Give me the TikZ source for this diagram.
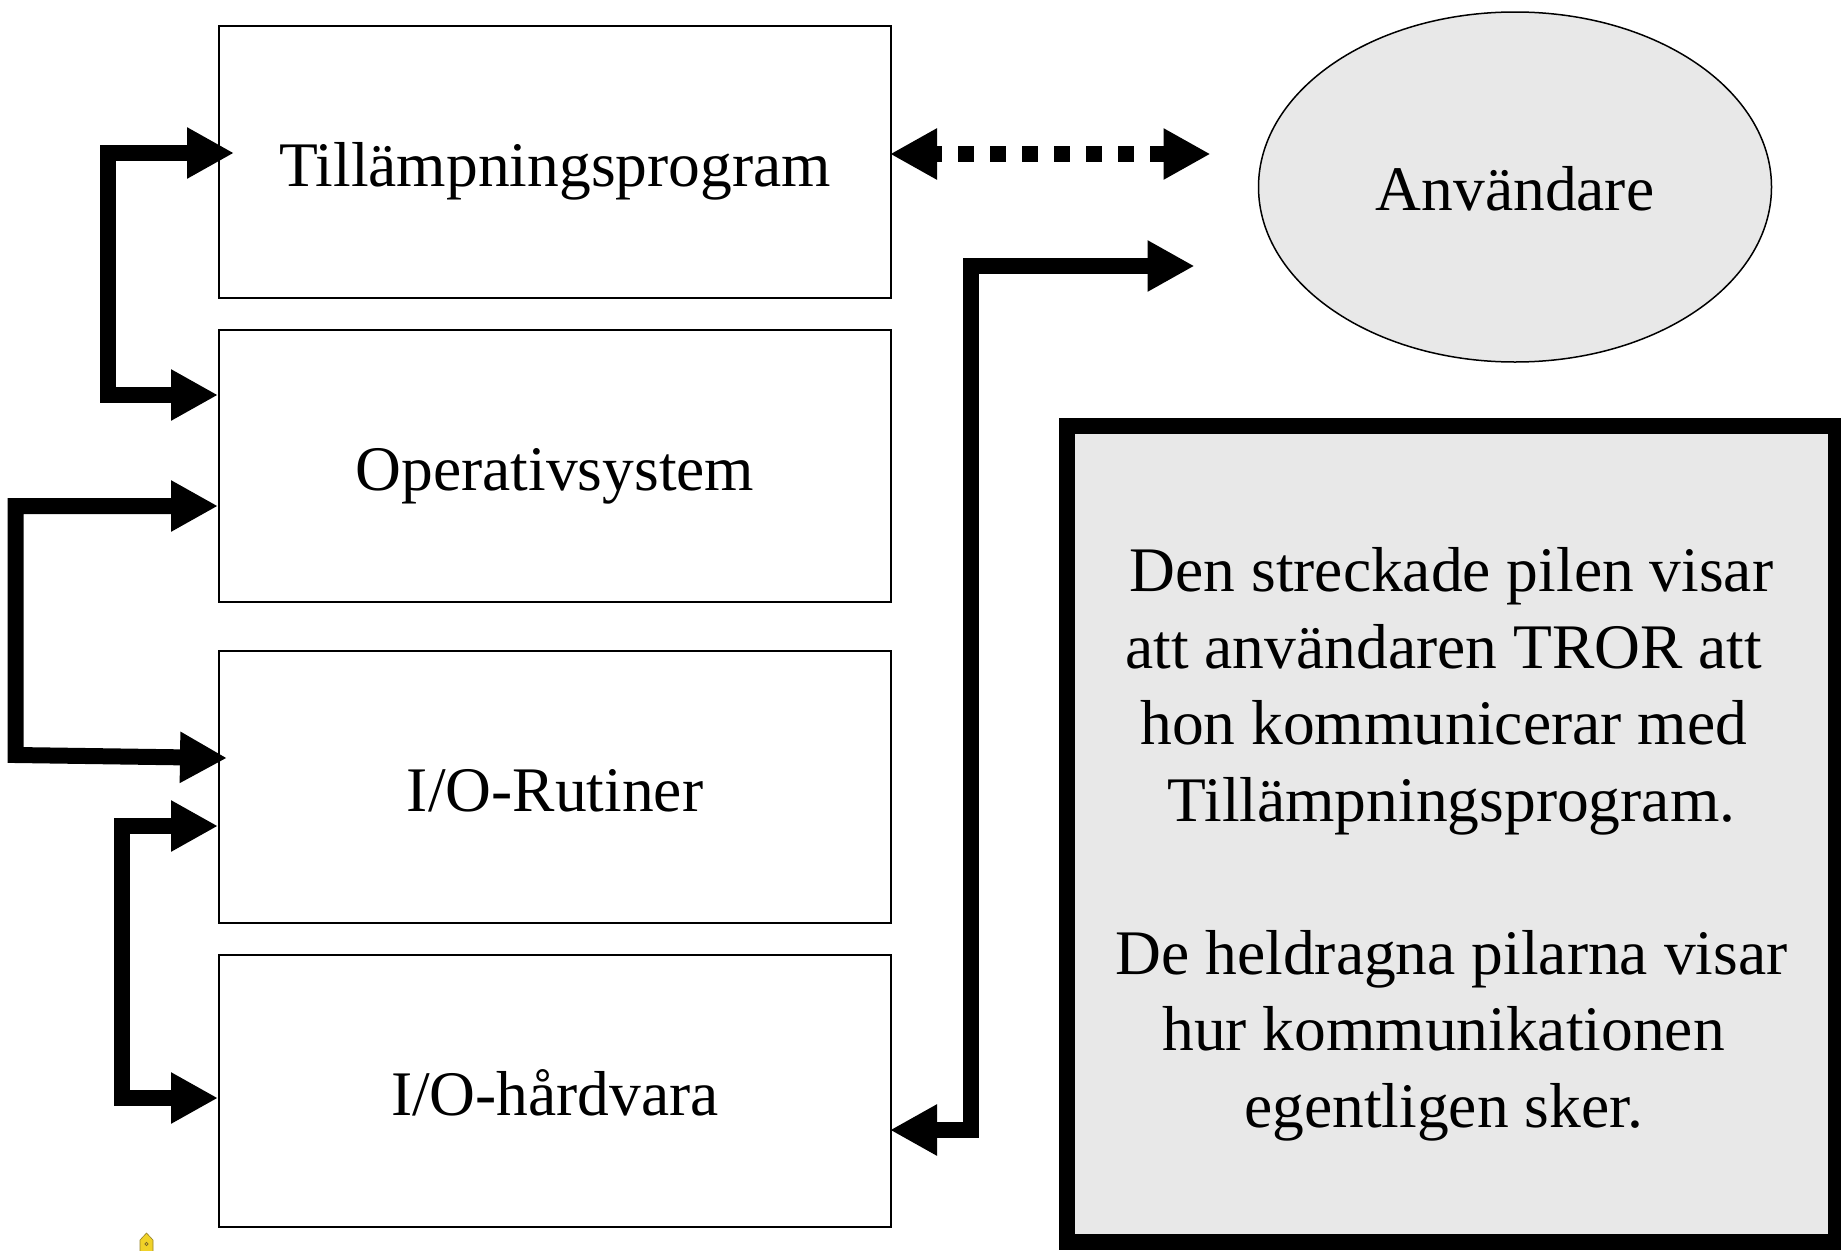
\documentclass[tikz,border=0pt]{standalone}
\usepackage{fontspec}
\setmainfont{Liberation Serif}
\usetikzlibrary{arrows.meta,shapes.geometric}
\newcommand\labelfont{\fontsize{63.5pt}{76.5pt}\selectfont}
\newcommand\trail{\rule{0.25em}{0pt}}
\definecolor{panelgray}{RGB}{232,232,232}
\definecolor{nibfill}{RGB}{240,210,40}
\definecolor{nibline}{RGB}{150,130,40}
\definecolor{nibdot}{RGB}{120,100,40}

\begin{document}
\begin{tikzpicture}[x=1pt,y=-1pt,
  layer/.style={draw, line width=1.5pt, minimum width=672pt, minimum height=272pt,
    inner sep=0pt, outer sep=0pt, font=\labelfont, text height=48.3pt, text depth=0pt},
  bigtip/.tip={Triangle[length=47pt,width=48pt]},
  flow/.style={line width=16pt, line join=miter, arrows={bigtip-bigtip}},
  dotflow/.style={line width=16pt, dash pattern=on 16pt off 16pt, dash phase=8pt,
    arrows={bigtip-bigtip}},
  ]
\useasboundingbox (0,0) rectangle (1841,1250);

% layered system, top to bottom
\node[layer] (t1) at (555,162)  {Tillämpningsprogram};
\node[layer] (t2) at (555,466)  {Operativsystem};
\node[layer] (t3) at (555,787)  {I/O-Rutiner};
\node[layer] (t4) at (555,1091) {I/O-hårdvara};

% the user
\node[ellipse, draw, line width=1.5pt, fill=panelgray, minimum width=513pt,
  minimum height=350pt, inner sep=0pt, outer sep=0pt, font=\labelfont,
  text height=46.2pt, text depth=0pt]
  (user) at (1515,187) {Användare};

% explanation panel
\node[draw, line width=16pt, fill=panelgray, minimum width=768.4pt, minimum height=816pt,
  inner sep=0pt] (note) at (1451.5,834) {};
\node[align=center, font=\labelfont, inner sep=0pt] (notetext)
  at ([yshift=-10.5pt]note.center)
  {Den streckade pilen visar\\
   att användaren TROR att\trail\\
   hon kommunicerar med\trail\\
   Tillämpningsprogram.\\[76.5pt]
   De heldragna pilarna visar\\
   hur kommunikationen\trail\\
   egentligen sker.\trail};

% actual communication paths
\draw[flow] ([shift={(15,-9)}]t1.west) -- (107.5,153) -- (107.5,395)
  -- ([shift={(-1,-71)}]t2.west);
\draw[flow] ([shift={(-1,40)}]t2.west) -- (15.5,506) -- (15.5,755)
  -- ([shift={(8,-29)}]t3.west);
\draw[flow] ([shift={(-1,39)}]t3.west) -- (122,826) -- (122,1098)
  -- ([shift={(-1,7)}]t4.west);
\draw[flow] ([shift={(-1,39)}]t4.east) -- (971,1130) -- (971,266)
  -- ([shift={(-64,79)}]user.west);

% perceived communication
\draw[dotflow] ([shift={(-1,-8)}]t1.east) -- ([shift={(-48,-33)}]user.west);

% small pen nib mark
\filldraw[fill=nibfill, draw=nibline, line width=0.6pt]
  (140,1251) -- (140,1240) -- (146.5,1233) -- (153,1240) -- (153,1251);
\draw[nibdot, line width=0.6pt] (146.5,1244) circle (1.6);
\end{tikzpicture}
\end{document}
